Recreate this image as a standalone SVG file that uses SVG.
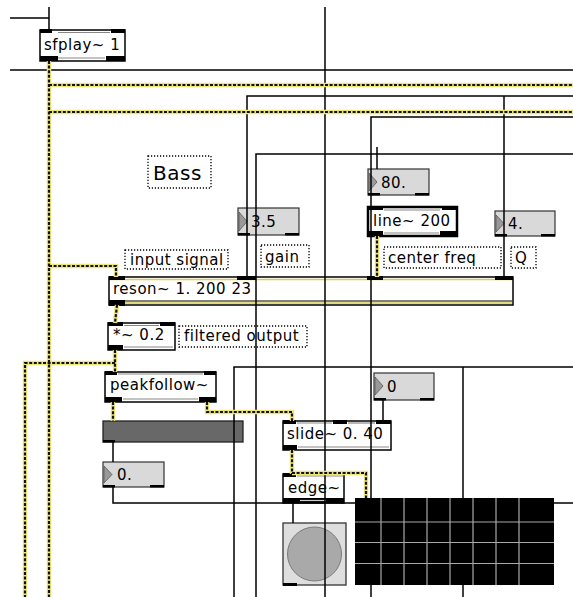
<svg xmlns="http://www.w3.org/2000/svg" width="573" height="597" viewBox="0 0 573 597">
<style>
text{font-family:"DejaVu Sans","Liberation Sans",sans-serif;font-size:15px;letter-spacing:0.5px;fill:#000}
.obj{fill:#fff;stroke:#000;stroke-width:1.5}
.io{fill:#000}
.dbl{stroke:#888;stroke-width:1.2;fill:none}
.num{fill:#d9d9d9;stroke:#333;stroke-width:1.2}
.tri{fill:#999;stroke:#555;stroke-width:0.8}
.cmt{fill:none;stroke:#000;stroke-width:1.3;stroke-dasharray:1.2 1.8}
.wire{fill:none;stroke:#000;stroke-width:1.5}
.sigbg{fill:none;stroke:#eee67a;stroke-width:4.5}
.sig{fill:none;stroke:#111;stroke-width:2.2;stroke-dasharray:3 1.6}
.grid{stroke:#a8a8a8;stroke-width:1.2}
</style>
<rect width="573" height="597" fill="#fff"/>

<g id="sfplay">
<rect class="obj" x="40" y="30" width="85" height="31"/>
<rect class="io" x="40" y="29" width="12" height="4"/>
<rect class="io" x="111" y="29" width="14" height="4"/>
<rect class="io" x="40" y="56" width="18" height="5"/>
<rect class="io" x="106" y="56" width="19" height="5"/>
<line class="dbl" x1="58" y1="32.5" x2="110" y2="32.5"/>
<line class="dbl" x1="58" y1="58" x2="105" y2="58"/>
<text x="44" y="50">sfplay~ 1</text>
</g>

<g id="bass"><rect class="cmt" x="148" y="156" width="63" height="32"/><text x="153" y="180" style="font-size:20px">Bass</text></g>
<g id="input-signal"><rect class="cmt" x="125" y="250" width="103" height="19"/><text x="130" y="265">input signal</text></g>
<g id="gain-label"><rect class="cmt" x="261" y="245" width="48" height="22"/><text x="265" y="262">gain</text></g>
<g id="center-freq"><rect class="cmt" x="384" y="247" width="117" height="21"/><text x="388" y="263">center freq</text></g>
<g id="q-label"><rect class="cmt" x="511" y="247" width="25" height="21"/><text x="515" y="263">Q</text></g>
<g id="filtered-output"><rect class="cmt" x="179" y="326" width="128" height="21"/><text x="184" y="341">filtered output</text></g>

<g id="num-gain">
<rect class="num" x="238" y="208" width="61" height="27"/>
<path class="tri" d="M239 212 L247 221.5 L239 231 Z"/>
<rect class="io" x="238" y="233" width="12" height="2.5"/>
<rect class="io" x="285" y="233" width="14" height="2.5"/>
<text x="251" y="227">3.5</text>
</g>
<g id="num-freq">
<rect class="num" x="368" y="169" width="61" height="26"/>
<path class="tri" d="M369 173 L377 182 L369 191 Z"/>
<rect class="io" x="368" y="193" width="12" height="2.5"/>
<rect class="io" x="415" y="193" width="14" height="2.5"/>
<text x="381" y="188">80.</text>
</g>
<g id="num-q">
<rect class="num" x="495" y="211" width="60" height="25"/>
<path class="tri" d="M496 215 L504 223.5 L496 232 Z"/>
<rect class="io" x="495" y="234" width="12" height="2.5"/>
<rect class="io" x="541" y="234" width="14" height="2.5"/>
<text x="508" y="229">4.</text>
</g>

<g id="line">
<rect class="obj" x="368" y="207" width="89" height="29" style="stroke-width:2.5"/>
<rect class="io" x="368" y="206" width="15" height="4"/>
<rect class="io" x="442" y="206" width="15" height="4"/>
<rect class="io" x="368" y="231" width="15" height="5"/>
<rect class="io" x="440" y="231" width="17" height="5"/>
<line class="dbl" x1="384" y1="210" x2="440" y2="210"/>
<line class="dbl" x1="384" y1="233" x2="439" y2="233"/>
<text x="373" y="226">line~ 200</text>
</g>

<g id="reson">
<rect class="obj" x="109" y="277" width="404" height="28"/>
<line x1="110" y1="279.5" x2="512" y2="279.5" stroke="#d8cf50" stroke-width="1.5"/>
<line x1="110" y1="301" x2="512" y2="301" stroke="#000" stroke-width="1.2"/>
<line x1="110" y1="303" x2="512" y2="303" stroke="#d8cf50" stroke-width="1.5"/>
<rect class="io" x="109" y="276" width="16" height="4"/>
<rect class="io" x="237" y="276" width="19" height="4"/>
<rect class="io" x="367" y="276" width="16" height="4"/>
<rect class="io" x="495" y="276" width="18" height="4"/>
<rect class="io" x="109" y="300" width="16" height="6"/>
<text x="113" y="294">reson~ 1. 200 23</text>
</g>

<g id="times">
<rect class="obj" x="108" y="323" width="67" height="27"/>
<rect class="io" x="108" y="322" width="15" height="4"/>
<rect class="io" x="160" y="322" width="15" height="4"/>
<rect class="io" x="108" y="345" width="15" height="5"/>
<line class="dbl" x1="124" y1="325.5" x2="159" y2="325.5"/>
<line class="dbl" x1="124" y1="347" x2="173" y2="347"/>
<text x="113" y="340">*~ 0.2</text>
</g>

<g id="peakfollow">
<rect class="obj" x="105" y="372" width="111" height="30"/>
<rect class="io" x="105" y="371" width="12" height="4"/>
<rect class="io" x="204" y="371" width="12" height="4"/>
<rect class="io" x="105" y="397" width="17" height="5"/>
<rect class="io" x="199" y="397" width="17" height="5"/>
<line class="dbl" x1="118" y1="374" x2="203" y2="374"/>
<line class="dbl" x1="123" y1="399" x2="198" y2="399"/>
<text x="110" y="390">peakfollow~</text>
</g>

<g id="slider">
<rect x="103" y="421" width="140" height="21" fill="#686868" stroke="#222" stroke-width="1.3"/>
<rect class="io" x="103" y="440" width="12" height="2.5"/>
</g>

<g id="num-out">
<rect class="num" x="103" y="462" width="61" height="25"/>
<path class="tri" d="M104 466 L112 474.5 L104 483 Z"/>
<rect class="io" x="103" y="485" width="12" height="2.5"/>
<rect class="io" x="150" y="485" width="14" height="2.5"/>
<text x="117" y="480">0.</text>
</g>

<g id="num-slide">
<rect class="num" x="374" y="373" width="60" height="27"/>
<path class="tri" d="M375 377 L383 386 L375 395 Z"/>
<rect class="io" x="374" y="398" width="12" height="2.5"/>
<rect class="io" x="420" y="398" width="14" height="2.5"/>
<text x="387" y="392">0</text>
</g>

<g id="slide">
<rect class="obj" x="283" y="421" width="108" height="29"/>
<rect class="io" x="283" y="420" width="13" height="4"/>
<rect class="io" x="333" y="420" width="14" height="4"/>
<rect class="io" x="376" y="420" width="15" height="4"/>
<rect class="io" x="283" y="445" width="14" height="5"/>
<line class="dbl" x1="297" y1="423" x2="332" y2="423"/>
<line class="dbl" x1="348" y1="423" x2="375" y2="423"/>
<line class="dbl" x1="298" y1="447" x2="389" y2="447"/>
<text x="287" y="439">slide~ 0. 40</text>
</g>

<g id="edge">
<rect class="obj" x="283" y="474" width="61" height="29"/>
<rect class="io" x="283" y="473" width="13" height="4"/>
<rect class="io" x="283" y="498" width="61" height="5"/>
<line x1="300" y1="500.5" x2="326" y2="500.5" stroke="#ccc" stroke-width="1.2"/>
<line class="dbl" x1="297" y1="476" x2="343" y2="476"/>
<text x="288" y="493">edge~</text>
</g>

<g id="button">
<rect x="283" y="523" width="63" height="62" fill="#dedede" stroke="#333" stroke-width="1.3"/>
<circle cx="314.5" cy="554" r="27" fill="#a9a9a9" stroke="#7a7a7a" stroke-width="1"/>
<rect class="io" x="283" y="583" width="14" height="3"/>
</g>

<g id="connectors">
<path class="wire" d="M10 18 H49 M49 7 V30"/>
<path class="wire" d="M10 70 H573"/>
<path class="wire" d="M325 7 V597"/>
<path class="wire" d="M573 96 H247 V277"/>
<path class="wire" d="M573 154 H256 V597"/>
<path class="wire" d="M573 117 H371 V597"/>
<path class="wire" d="M377 147 V169"/>
<path class="wire" d="M504 96 V277"/>
<path class="wire" d="M573 367 H234 V597"/>
<path class="wire" d="M463 367 V597"/>
<path class="wire" d="M113 442 V462"/>
<path class="wire" d="M113 487 V503 H573"/>
<path class="wire" d="M383 400 V421"/>
<path class="wire" d="M293 503 V523"/>

<path class="sigbg" d="M49 61 V597"/>
<path class="sigbg" d="M49 85 H573"/>
<path class="sigbg" d="M49 112 H573"/>
<path class="sigbg" d="M49 266 H116 V277"/>
<path class="sigbg" d="M117 305 L115 323"/>
<path class="sigbg" d="M115 350 V372 M115 363 H25 V597"/>
<path class="sigbg" d="M113 402 V421"/>
<path class="sigbg" d="M207 402 V412 H292 V421"/>
<path class="sigbg" d="M292 450 V474 M292 473 H366 V498"/>
<path class="sigbg" d="M377 236 V277"/>

<path class="sig" d="M49 61 V597"/>
<path class="sig" d="M49 85 H573"/>
<path class="sig" d="M49 112 H573"/>
<path class="sig" d="M49 266 H116 V277"/>
<path class="sig" d="M117 305 L115 323"/>
<path class="sig" d="M115 350 V372 M115 363 H25 V597"/>
<path class="sig" d="M113 402 V421"/>
<path class="sig" d="M207 402 V412 H292 V421"/>
<path class="sig" d="M292 450 V474 M292 473 H366 V498"/>
<path class="sig" d="M377 236 V277"/>
</g>

<g id="scope">
<rect x="355" y="498" width="199" height="87" fill="#000"/>
<path class="grid" d="M381 498 V585 M404 498 V585 M427 498 V585 M450 498 V585 M473 498 V585 M496 498 V585 M519 498 V585 M355 522 H554 M355 542.5 H554 M355 563.5 H554"/>
</g>
</svg>
